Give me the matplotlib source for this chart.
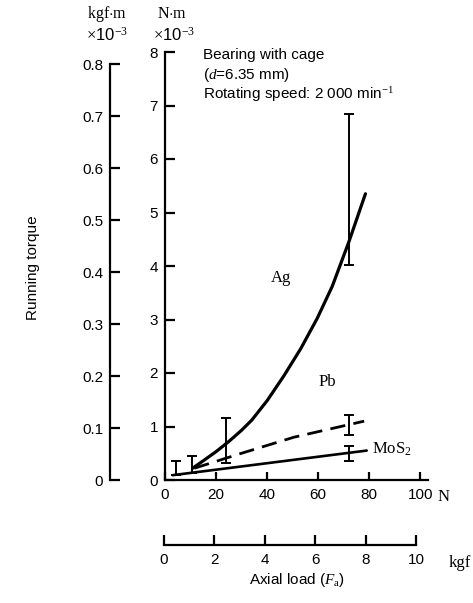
import numpy as np
import matplotlib
matplotlib.use('Agg')
import matplotlib.pyplot as plt

W, H = 473, 603

# curves (N, N.m x 1e-3)
ag_load = [10.8, 15.0, 20.0, 25.0, 30.0, 34.0, 40.1, 46.6, 53.1, 59.6, 65.5, 72.0, 78.5]
ag_torque = [0.22, 0.36, 0.53, 0.72, 0.93, 1.12, 1.49, 1.95, 2.45, 3.02, 3.62, 4.45, 5.35]
pb_load = [11.5, 30.0, 50.5, 78.0]
pb_torque = [0.22, 0.50, 0.80, 1.10]
mos2_load = [3.0, 79.0]
mos2_torque = [0.09, 0.55]

# error bars
eb_load = [4.3, 10.4, 23.8, 72.0, 72.0, 72.0]
eb_low = [0.09, 0.13, 0.31, 4.02, 0.85, 0.35]
eb_high = [0.35, 0.44, 1.16, 6.84, 1.21, 0.63]

nm_ticks = [0, 1, 2, 3, 4, 5, 6, 7, 8]
kgfm_ticks = [0, 0.1, 0.2, 0.3, 0.4, 0.5, 0.6, 0.7, 0.8]
n_ticks = [0, 20, 40, 60, 80, 100]
kgf_ticks = [0, 2, 4, 6, 8, 10]

sans = 'Liberation Sans'
serif = 'Liberation Serif'
plt.rcParams['font.family'] = sans
plt.rcParams['mathtext.fontset'] = 'custom'
plt.rcParams['mathtext.rm'] = serif
plt.rcParams['mathtext.it'] = serif + ':italic'


def box(x0, y0, x1, y1):
    # pixel box (top-left origin) -> figure fraction rect
    return [x0 / W, 1 - y1 / H, (x1 - x0) / W, (y1 - y0) / H]


def px(x, y):
    return x / W, 1 - y / H


fig = plt.figure(figsize=(W / 100, H / 100), dpi=100)

# main axes
ax = fig.add_axes(box(165, 52, 428, 480))
ax.plot(ag_load, ag_torque, color='black', lw=2.3, solid_capstyle='round',
        solid_joinstyle='round')
ax.plot(pb_load, pb_torque, color='black', lw=2.0, ls=(0, (5.5, 3)))
ax.plot(mos2_load, mos2_torque, color='black', lw=1.9, solid_capstyle='round')
low = np.array(eb_low)
high = np.array(eb_high)
ax.errorbar(eb_load, (low + high) / 2, yerr=(high - low) / 2, fmt='none',
            ecolor='black', elinewidth=1.4, capsize=3.5, capthick=1.4)
ax.set_xlim(0, 103)
ax.set_ylim(0, 8)
for s in ['top', 'right']:
    ax.spines[s].set_visible(False)
for s in ['left', 'bottom']:
    ax.spines[s].set_linewidth(1.6)
ax.set_xticks(n_ticks)
ax.set_yticks(nm_ticks)
ax.tick_params(direction='in', length=7, width=1.6, labelsize=11, pad=5)
ax.tick_params(axis='x', length=6, pad=6)
ax.text(45.3, 3.77, 'Ag', family=serif, fontsize=12, ha='center', va='center')
ax.text(63.7, 1.83, 'Pb', family=serif, fontsize=12, ha='center', va='center')
ax.text(81, 0.57, 'MoS$_2$', family=serif, fontsize=12, ha='left', va='center')

# left kgf.m axis
axl = fig.add_axes(box(110, 64, 111, 480))
axl.set_ylim(0, 0.8)
axl.set_xticks([])
axl.set_yticks(kgfm_ticks)
axl.set_yticklabels(['0' if v == 0 else '%.1f' % v for v in kgfm_ticks])
for s in ['top', 'right', 'bottom']:
    axl.spines[s].set_visible(False)
axl.spines['left'].set_linewidth(1.6)
axl.tick_params(direction='in', length=7, width=1.6, labelsize=11, pad=5)
axl.patch.set_visible(False)

# bottom kgf axis
axb = fig.add_axes(box(164, 500, 416, 545))
axb.set_xlim(0, 10)
axb.set_yticks([])
axb.set_xticks(kgf_ticks)
for s in ['top', 'right', 'left']:
    axb.spines[s].set_visible(False)
axb.spines['bottom'].set_linewidth(1.6)
axb.tick_params(direction='in', length=7, width=1.6, labelsize=11, pad=6)
axb.patch.set_visible(False)

# unit labels
fig.text(*px(107, 14), 'kgf$\\cdot$m', family=serif, fontsize=11.5, ha='center', va='center')
fig.text(*px(107, 35), '$\\times$10$^{-3}$', fontsize=12, ha='center', va='center')
fig.text(*px(172, 14), 'N$\\cdot$m', family=serif, fontsize=11.5, ha='center', va='center')
fig.text(*px(174, 35), '$\\times$10$^{-3}$', fontsize=12, ha='center', va='center')
fig.text(*px(438, 497), 'N', family=serif, fontsize=12, ha='left', va='center')
fig.text(*px(449, 563), 'kgf', family=serif, fontsize=12, ha='left', va='center')

# annotation
fig.text(*px(203, 55), 'Bearing with cage', fontsize=11, ha='left', va='center')
fig.text(*px(203, 75), '($d$=6.35 mm)', fontsize=11, ha='left', va='center')
fig.text(*px(203, 95), 'Rotating speed: 2 000 min$^{-1}$', fontsize=11, ha='left', va='center')

# axis titles
fig.text(*px(33, 268), 'Running torque', fontsize=11, rotation=90, ha='center', va='center')
fig.text(*px(297, 580), 'Axial load ($F_\\mathrm{a}$)', fontsize=11, ha='center', va='center')

fig.savefig('out.png', dpi=100)
